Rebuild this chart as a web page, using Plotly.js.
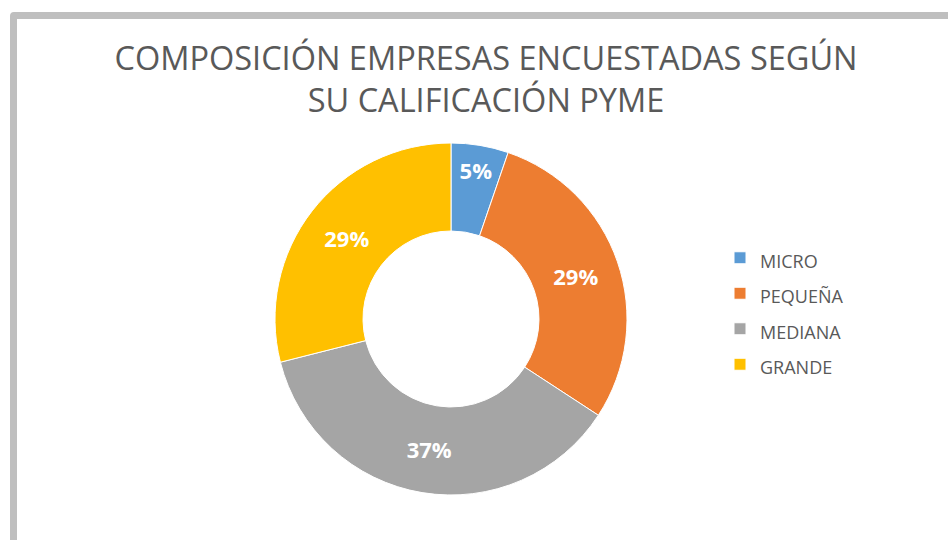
<!DOCTYPE html>
<html>
<head>
<meta charset="utf-8">
<script src="https://cdn.plot.ly/plotly-3.0.1.min.js"></script>
<style>
  html, body { margin: 0; padding: 0; background: #ffffff; overflow: hidden; }
  #frame { position: absolute; left: 10px; top: 12px; width: 1000px; height: 600px;
           border: 7px solid #bfbfbf; border-radius: 4px; background: #ffffff; }
  #chart { position: absolute; left: 0; top: 0; width: 948px; height: 540px; }
</style>
</head>
<body>
<div id="frame"></div>
<div id="chart"></div>
<script>
const titleText = 'COMPOSICIÓN EMPRESAS ENCUESTADAS SEGÚN<br>SU CALIFICACIÓN PYME';
const categories = ['MICRO', 'PEQUEÑA', 'MEDIANA', 'GRANDE'];
const counts = [2, 11, 14, 11];
const sliceColors = ['#5B9BD5', '#ED7D31', '#A5A5A5', '#FFC000'];

const W = 948, H = 540;
const cx = 451, cy = 319, R = 176;

const legendLabels = categories.map(c => '<span style="font-size:18px">' + c + '</span>');

const trace = {
  type: 'pie',
  labels: legendLabels,
  values: counts,
  hole: 0.5,
  sort: false,
  direction: 'clockwise',
  rotation: 0,
  marker: { colors: sliceColors, line: { color: '#ffffff', width: 1 } },
  texttemplate: '%{percent:.0%}',
  textposition: 'inside',
  insidetextorientation: 'horizontal',
  insidetextfont: { family: 'Open Sans', size: 22, color: '#ffffff', weight: 'bold' },
  hoverinfo: 'none',
  domain: {
    x: [(cx - R) / W, (cx + R) / W],
    y: [1 - (cy + R) / H, 1 - (cy - R) / H]
  }
};

const layout = {
  width: W, height: H,
  margin: { l: 0, r: 0, t: 0, b: 0 },
  paper_bgcolor: 'rgba(0,0,0,0)',
  plot_bgcolor: 'rgba(0,0,0,0)',
  font: { family: 'Open Sans', color: '#595959' },
  title: {
    text: titleText,
    font: { family: 'Open Sans', size: 32.5, color: '#595959' },
    x: 486 / W, xanchor: 'center',
    xref: 'container', yref: 'container',
    y: 1 - 70 / H, yanchor: 'top'
  },
  showlegend: true,
  legend: {
    x: 720 / W, xanchor: 'left',
    y: 1 - 311 / H, yanchor: 'middle',
    font: { family: 'Open Sans', size: 25, color: '#595959' },
    bgcolor: 'rgba(0,0,0,0)'
  }
};

Plotly.newPlot('chart', [trace], layout, { displayModeBar: false, staticPlot: true });
</script>
</body>
</html>
